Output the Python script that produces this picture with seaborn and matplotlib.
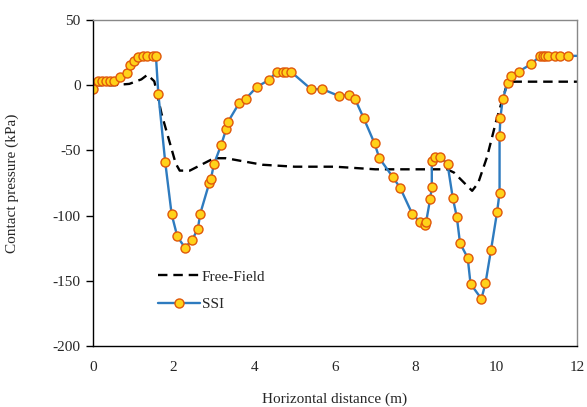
import numpy as np
import pandas as pd
import matplotlib
matplotlib.use("Agg")
import matplotlib.pyplot as plt
import seaborn as sns

# Free-field contact pressure
ff_x = [0, 0.5, 0.9, 1.2, 1.35, 1.52, 1.7, 2.05, 2.15, 2.4, 3.0, 3.3, 4.2, 5.0, 6.0, 7.0, 8.0,
        8.78, 8.95, 9.4, 9.55, 9.77, 10.0, 10.27, 10.45, 12.0]
ff_y = [0, 0, 1, 4.5, 8, 3, -22, -60, -65.5, -65.5, -56, -56, -61, -62.5, -62.5, -64.5, -64.5,
        -64.5, -67, -81, -75, -55, -27, 1.5, 2.7, 2.7]

# SSI contact pressure
ssi_x = [0, 0.13, 0.23, 0.32, 0.42, 0.53, 0.66, 0.85, 0.92, 1.02, 1.12, 1.25, 1.35, 1.48, 1.56,
         1.62, 1.79, 1.95, 2.09, 2.28, 2.46, 2.60, 2.66, 2.88, 2.92, 3.0, 3.18, 3.30, 3.34,
         3.63, 3.79, 4.06, 4.37, 4.56, 4.72, 4.78, 4.90, 5.41, 5.68, 6.10, 6.35, 6.50, 6.71,
         6.98, 7.1, 7.44, 7.62, 7.92, 8.10, 8.23, 8.26, 8.36, 8.40, 8.40, 8.49, 8.61, 8.79,
         8.92, 9.02, 9.10, 9.29, 9.36, 9.63, 9.73, 9.87, 10.02, 10.08, 10.08, 10.10, 10.16,
         10.28, 10.36, 10.55, 10.86, 11.09, 11.15, 11.20, 11.29, 11.46, 11.59, 11.78, 12.3]
ssi_y = [-3, 3, 3, 3, 3, 3.2, 6.5, 9.7, 15.5, 18.5, 21.4, 22.4, 22.4, 22.4, 22.4,
         -6.7, -58.8, -99, -116, -124.6, -118.6, -110, -98.4, -75.3, -72.2, -60.4, -45.6, -33.9, -28.5,
         -13.4, -10.3, -1.4, 4.2, 10.5, 10.5, 10.5, 10.5, -3.1, -2.9, -8.3, -7.4, -10.8, -25.2,
         -44.6, -56, -70.7, -79, -99, -104.6, -107.5, -104.7, -87.2, -78.4, -58, -55, -55, -60.5,
         -86.4, -101, -121.2, -132.4, -152.3, -163.8, -152, -126, -97, -82.4, -39.2, -24.9, -10.6,
         1.4, 7.3, 10.3, 16.2, 22.5, 22.5, 22.5, 22.5, 22.5, 22.5, 22.5, 22.5]

x_ticks = [0, 2, 4, 6, 8, 10, 12]
y_ticks = [50, 0, -50, -100, -150, -200]

ff = pd.DataFrame({"x": ff_x, "y": ff_y})
ssi = pd.DataFrame({"x": ssi_x, "y": ssi_y})

sns.set_style("white")
plt.rcParams["font.family"] = ["Liberation Serif", "DejaVu Serif"]

fig = plt.figure(figsize=(5.87, 4.07), dpi=100)
ax = fig.add_axes([93 / 587, 1 - 346 / 407, 484 / 587, 326 / 407])

sns.lineplot(data=ff, x="x", y="y", ax=ax, color="black", linewidth=1.7,
             linestyle=(0, (4, 2.5)), sort=False, estimator=None, label="Free-Field")
sns.lineplot(data=ssi, x="x", y="y", ax=ax, color="#2E7BBF", linewidth=1.7,
             marker="o", markersize=6.5, markerfacecolor="#FFD21A",
             markeredgecolor="#E0580A", markeredgewidth=1.0,
             sort=False, estimator=None, label="SSI")

ax.set_xlim(0, 12)
ax.set_ylim(-200, 50)
ax.set_xticks(x_ticks)
ax.set_yticks(y_ticks)
ax.set_xticklabels([str(v) for v in x_ticks])
ax.set_yticklabels([str(v) for v in y_ticks])
ax.tick_params(axis="x", length=0, pad=11, labelsize=11)
ax.tick_params(axis="y", length=5, width=1, direction="out", left=True, pad=4, labelsize=11,
               color="black")
ax.set_xlabel("Horizontal distance (m)", fontsize=11, labelpad=13)
ax.set_ylabel("Contact pressure (kPa)", fontsize=11, labelpad=24)

for side in ["left", "bottom"]:
    ax.spines[side].set_color("black")
    ax.spines[side].set_linewidth(1.0)
for side in ["top", "right"]:
    ax.spines[side].set_color("#888888")
    ax.spines[side].set_linewidth(1.0)

leg = ax.legend(loc="center left", bbox_to_anchor=(0.105, 0.17), frameon=False,
                fontsize=11, handlelength=2.8, handletextpad=0.1, labelspacing=0.9)

fig.savefig("out.png", dpi=100)
